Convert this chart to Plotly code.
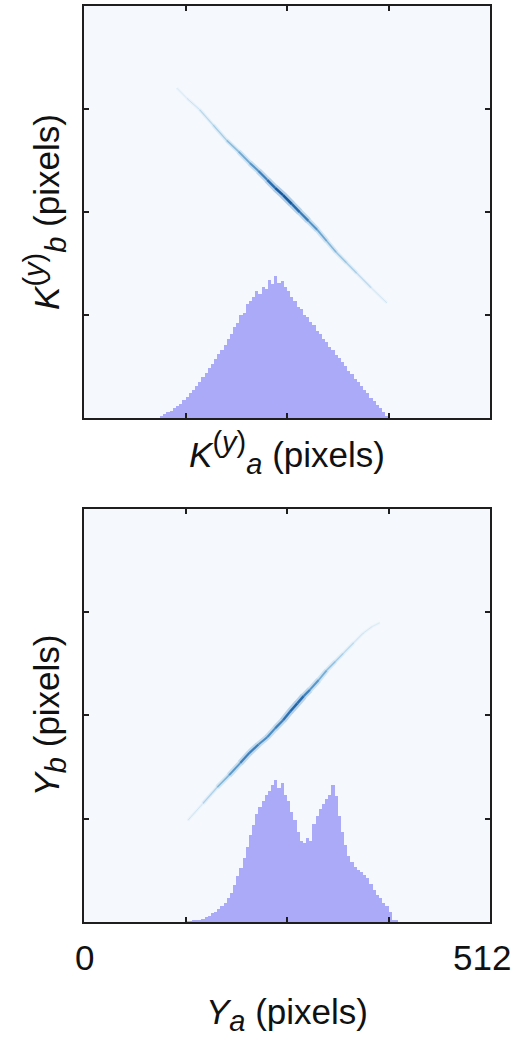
import plotly.graph_objects as go
from plotly.colors import sample_colorscale

# ---------------- data ----------------
# Histograms along the horizontal axis (4-pixel bins), heights in y-axis units
top_hist_x = list(range(98, 383, 4))
top_hist_y = [3, 5, 7, 9, 12, 15, 18, 22, 26, 31, 35, 40, 45, 51, 56, 62, 67, 73, 79, 85,
              91, 98, 104, 113, 118, 128, 131, 142, 145, 150, 158, 154, 163, 160, 171, 166, 176, 168, 170, 163,
              158, 150, 145, 138, 136, 128, 126, 119, 116, 108, 105, 98, 95, 88, 84, 78, 75, 69, 65, 58,
              55, 49, 45, 40, 35, 31, 25, 21, 16, 12, 7, 3]

bot_hist_x = list(range(130, 395, 4))
bot_hist_y = [1, 1, 2, 2, 3, 4, 6, 8, 11, 13, 16, 20, 24, 30, 36, 46, 57, 67, 79, 93,
              108, 120, 134, 142, 150, 158, 163, 170, 176, 166, 172, 158, 150, 136, 127, 112, 100, 98, 104, 101,
              122, 132, 140, 146, 152, 158, 170, 156, 132, 112, 96, 82, 74, 68, 64, 62, 58, 54, 47, 40,
              34, 30, 24, 20, 12, 3, 2]

# Ridge of the 2-D density (points along the streak) and relative density
top_ridge_x = [117, 130, 146, 163, 180, 195, 209, 220, 231, 241, 251, 262, 272, 283, 294, 306, 318, 331, 344, 362, 382]
top_ridge_y = [410, 397, 383, 364, 345, 331, 317, 307, 296, 286, 277, 266, 256, 245, 234, 220, 206, 193, 180, 162, 143]
top_ridge_density = [0.03, 0.1, 0.18, 0.28, 0.38, 0.5, 0.62, 0.72, 0.82, 0.92, 1.0, 0.92, 0.85, 0.74, 0.62, 0.52, 0.42, 0.34, 0.27, 0.17, 0.05]

bot_ridge_x = [131, 150, 168, 183, 197, 209, 220, 231, 241, 251, 260, 269, 277, 285, 296, 306, 317, 327, 340, 352, 363, 373]
bot_ridge_y = [126, 147, 167, 182, 197, 210, 220, 229, 240, 250, 261, 271, 280, 288, 300, 312, 323, 333, 346, 358, 366, 371]
bot_ridge_density = [0.04, 0.18, 0.38, 0.58, 0.72, 0.82, 0.74, 0.68, 0.74, 0.82, 0.87, 0.92, 0.82, 0.72, 0.6, 0.47, 0.37, 0.27, 0.18, 0.11, 0.06, 0.02]

axis_ticks = [128, 256, 384]
axis_range = [0, 512]

# ---------------- styles ----------------
HIST_COLOR = "#aaaaf8"
BG_COLOR = "#f5f9fe"
FRAME = "#1e1e1e"
FONT = "Liberation Sans, Arial, Helvetica, sans-serif"

fig = go.Figure()

def add_hist(xs, ys, xa, ya):
    fig.add_trace(go.Bar(x=xs, y=ys, width=4, marker=dict(color=HIST_COLOR, line=dict(width=0)),
                         xaxis=xa, yaxis=ya, showlegend=False, hoverinfo="skip"))

def add_ridge(xs, ys, dens, xa, ya):
    # soft halo
    for i in range(len(xs) - 1):
        d = (dens[i] + dens[i + 1]) / 2
        col = sample_colorscale("Blues", [0.3 + 0.5 * d])[0]
        fig.add_trace(go.Scatter(x=xs[i:i + 2], y=ys[i:i + 2], mode="lines",
                                 line=dict(color=col, width=2.5 + 5 * d), opacity=0.1 + 0.22 * d,
                                 xaxis=xa, yaxis=ya, showlegend=False, hoverinfo="skip"))
    # core
    for i in range(len(xs) - 1):
        d = (dens[i] + dens[i + 1]) / 2
        col = sample_colorscale("Blues", [0.38 + 0.52 * d])[0]
        fig.add_trace(go.Scatter(x=xs[i:i + 2], y=ys[i:i + 2], mode="lines",
                                 line=dict(color=col, width=0.7 + 2.0 * d), opacity=0.2 + 0.75 * d,
                                 xaxis=xa, yaxis=ya, showlegend=False, hoverinfo="skip"))

add_hist(top_hist_x, top_hist_y, "x", "y")
add_ridge(top_ridge_x, top_ridge_y, top_ridge_density, "x", "y")
add_hist(bot_hist_x, bot_hist_y, "x2", "y2")
add_ridge(bot_ridge_x, bot_ridge_y, bot_ridge_density, "x2", "y2")

common = dict(range=axis_range, tickvals=axis_ticks, ticks="inside", ticklen=5, tickwidth=2,
              tickcolor=FRAME, showticklabels=False, showline=True, linewidth=2, linecolor=FRAME,
              mirror="allticks", showgrid=False, zeroline=False, automargin=False, fixedrange=True)
title_font = dict(family=FONT, size=35, color="#111111")
tick_font = dict(family=FONT, size=35, color="#111111")

SUP = '<sup><span style="font-size:29px">(<i>y</i>)</span></sup>'


def sub(letter):
    return '<sub><span style="font-size:29px"><i>%s</i></span></sub>' % letter


fig.update_layout(
    width=517, height=1043,
    margin=dict(l=84, r=27, t=6, b=121),
    paper_bgcolor="white", plot_bgcolor=BG_COLOR,
    bargap=0, barmode="overlay",
    font=dict(family=FONT, color="#111111"),
    xaxis=dict(domain=[0, 1], anchor="y", **common,
               title=dict(text="<i>K</i>" + SUP + sub("a") + " (pixels)",
                          font=title_font, standoff=23)),
    yaxis=dict(domain=[0.5502, 1], anchor="x", **common,
               title=dict(text="<i>K</i>" + SUP + sub("b") + " (pixels)",
                          font=title_font, standoff=12)),
    xaxis2=dict(domain=[0, 1], anchor="y2", **common,
                title=dict(text="<i>Y</i>" + sub("a") + " (pixels)",
                           font=title_font, standoff=76)),
    yaxis2=dict(domain=[0, 0.4509], anchor="x2", **common,
                title=dict(text="<i>Y</i>" + sub("b") + " (pixels)",
                           font=title_font, standoff=12)),
    annotations=[
        dict(text="0", x=axis_range[0], y=0, xref="x2", yref="y2", xanchor="center", yanchor="top",
             yshift=-14, showarrow=False, font=tick_font),
        dict(text="512", x=axis_range[1], y=0, xref="x2", yref="y2", xanchor="center", yanchor="top",
             xshift=-8, yshift=-14, showarrow=False, font=tick_font),
    ],
)

fig.write_html("out.html", config={"displayModeBar": False},
               post_script="document.body.style.margin='0px';document.body.style.padding='0px';")
